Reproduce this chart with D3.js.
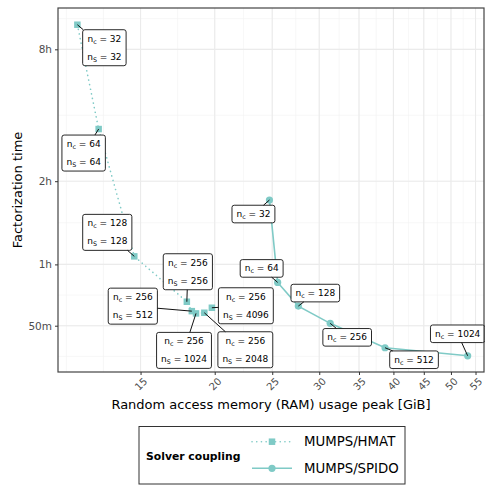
<!DOCTYPE html>
<html>
<head>
<meta charset="utf-8">
<script src="https://cdn.jsdelivr.net/npm/d3@7"></script>
<style>
  body { margin: 0; background: #fff; }
  svg { font-family: "DejaVu Sans", sans-serif; }
</style>
</head>
<body>
<div id="chart"></div>
<script>
// MUMPS/HMAT runs: RAM peak [GiB], factorization time [s], n_c, n_S
const hmatRam = [11.74, 12.75, 14.64, 17.95, 18.30, 18.60, 19.21, 19.78];
const hmatTime = [36825, 15440, 5346, 3663, 3387, 3324, 3342, 3484];
const hmatNc = [32, 64, 128, 256, 256, 256, 256, 256];
const hmatNs = [32, 64, 128, 256, 512, 1024, 2048, 4096];

// MUMPS/SPIDO runs
const spidoRam = [24.73, 25.53, 27.66, 31.30, 38.72, 53.35];
const spidoTime = [8547, 4303, 3533, 3060, 2497, 2335];
const spidoNc = [32, 64, 128, 256, 512, 1024];

const xTicks = [15, 20, 25, 30, 35, 40, 45, 50, 55];
const yTicks = [3000, 5000, 10000, 30000];
const yTickLabels = ["50m", "1h", "2h", "8h"];
const seriesNames = ["MUMPS/HMAT", "MUMPS/SPIDO"];

// where the repelled labels ended up (label centre minus point, px)
const hmatLabelShift = [[27, 23], [-15, 24], [-27, -24], [1, -30], [-59, -5], [-12, 37], [41, 37], [34, -2]];
const spidoLabelShift = [[-16, 14], [-16, -14], [17, -13], [17, 14], [29, 12], [-10, -22]];

const color = "#7fcac6";

let W = 485, H = 487;
let margin = {top: 8, right: 1, bottom: 115, left: 58};

let svg = d3.select("#chart").append("svg")
    .attr("width", W)
    .attr("height", H);

let x = d3.scaleLog()
    .domain([10.89, 56.84])
    .range([margin.left, W - margin.right]);

let y = d3.scaleLog()
    .domain([2040, 42330])
    .range([H - margin.bottom, margin.top]);

let x0 = margin.left, x1 = W - margin.right;
let y0 = H - margin.bottom, y1 = margin.top;

// minor grid: midpoints in log space, extended by the first step (like ggplot)
function minorBreaks(ticks, dom) {
    let l = ticks.map(Math.log);
    let bd = l[1] - l[0];
    let ext = [l[0] - bd].concat(l, [l[l.length - 1] + bd]);
    let out = [];
    for (let i = 0; i < ext.length - 1; i++) {
        out.push(ext[i]);
        out.push((ext[i] + ext[i + 1]) / 2);
    }
    out.push(ext[ext.length - 1]);
    return out.map(Math.exp).filter(v => v > dom[0] && v < dom[1]);
}

let grid = svg.append("g");
grid.selectAll(".vminor")
    .data(minorBreaks(xTicks, x.domain()))
    .enter().append("line")
    .attr("x1", d => x(d)).attr("x2", d => x(d))
    .attr("y1", y1).attr("y2", y0)
    .attr("stroke", "#f2f2f2").attr("stroke-width", 0.6);
grid.selectAll(".hminor")
    .data(minorBreaks(yTicks, y.domain()))
    .enter().append("line")
    .attr("y1", d => y(d)).attr("y2", d => y(d))
    .attr("x1", x0).attr("x2", x1)
    .attr("stroke", "#f2f2f2").attr("stroke-width", 0.6);
grid.selectAll(".vmajor")
    .data(xTicks)
    .enter().append("line")
    .attr("x1", d => x(d)).attr("x2", d => x(d))
    .attr("y1", y1).attr("y2", y0)
    .attr("stroke", "#ebebeb").attr("stroke-width", 1.1);
grid.selectAll(".hmajor")
    .data(yTicks)
    .enter().append("line")
    .attr("y1", d => y(d)).attr("y2", d => y(d))
    .attr("x1", x0).attr("x2", x1)
    .attr("stroke", "#ebebeb").attr("stroke-width", 1.1);

// data
let hmat = hmatRam.map((r, i) => ({ram: r, time: hmatTime[i], nc: hmatNc[i], ns: hmatNs[i], shift: hmatLabelShift[i]}));
let spido = spidoRam.map((r, i) => ({ram: r, time: spidoTime[i], nc: spidoNc[i], ns: null, shift: spidoLabelShift[i]}));

let line = d3.line()
    .x(d => x(d.ram))
    .y(d => y(d.time));

svg.append("path")
    .datum(hmat.slice().sort((a, b) => a.ram - b.ram))
    .attr("d", line)
    .attr("fill", "none")
    .attr("stroke", color)
    .attr("stroke-width", 1.6)
    .attr("stroke-linecap", "round")
    .attr("stroke-dasharray", "0.1,4.6");

svg.append("path")
    .datum(spido.slice().sort((a, b) => a.ram - b.ram))
    .attr("d", line)
    .attr("fill", "none")
    .attr("stroke", color)
    .attr("stroke-width", 1.6);

let sq = 6.5;
svg.selectAll(".hmatPt")
    .data(hmat)
    .enter().append("rect")
    .attr("x", d => x(d.ram) - sq / 2)
    .attr("y", d => y(d.time) - sq / 2)
    .attr("width", sq).attr("height", sq)
    .attr("fill", color);

svg.selectAll(".spidoPt")
    .data(spido)
    .enter().append("circle")
    .attr("cx", d => x(d.ram))
    .attr("cy", d => y(d.time))
    .attr("r", 3.6)
    .attr("fill", color);

// labels
function addSubText(g, sub, value, yy) {
    let t = g.append("text")
        .attr("x", 0).attr("y", yy)
        .attr("text-anchor", "middle")
        .attr("dominant-baseline", "central")
        .attr("font-size", 9)
        .attr("fill", "#000");
    t.append("tspan").text("n");
    t.append("tspan").attr("font-size", 6.3).attr("dy", 2).text(sub);
    t.append("tspan").attr("dy", -2).text(" = " + value);
    return t;
}

function intersectBox(px, py, cx, cy, hw, hh) {
    let dx = px - cx, dy = py - cy;
    let s = Math.min(hw / Math.abs(dx || 1e-9), hh / Math.abs(dy || 1e-9));
    return [cx + dx * s, cy + dy * s];
}

function drawLabel(d) {
    let px = x(d.ram), py = y(d.time);
    let cx = px + d.shift[0], cy = py + d.shift[1];
    let twoLines = d.ns !== null;
    let hh = twoLines ? 18 : 8.8;
    let g = svg.append("g").attr("transform", `translate(${cx},${cy})`);
    let rect = g.append("rect");
    let texts = [];
    if (twoLines) {
        texts.push(addSubText(g, "c", d.nc, -9));
        texts.push(addSubText(g, "S", d.ns, 9));
    } else {
        texts.push(addSubText(g, "c", d.nc, 0));
    }
    let w = d3.max(texts, t => t.node().getComputedTextLength()) + 9;
    rect.attr("x", -w / 2).attr("y", -hh)
        .attr("width", w).attr("height", 2 * hh)
        .attr("rx", 2.2)
        .attr("fill", "#fff")
        .attr("stroke", "#111")
        .attr("stroke-width", 0.9);
    let e = intersectBox(px, py, cx, cy, w / 2, hh);
    svg.append("line")
        .attr("x1", px).attr("y1", py)
        .attr("x2", e[0]).attr("y2", e[1])
        .attr("stroke", "#111")
        .attr("stroke-width", 1);
}
hmat.forEach(drawLabel);
spido.forEach(drawLabel);

// panel border
svg.append("rect")
    .attr("x", x0).attr("y", y1)
    .attr("width", x1 - x0).attr("height", y0 - y1)
    .attr("fill", "none")
    .attr("stroke", "#444")
    .attr("stroke-width", 1.2);

// axes
let xAxis = svg.append("g")
    .attr("transform", `translate(0,${y0})`)
    .call(d3.axisBottom(x).tickValues(xTicks).tickFormat(d3.format("d")).tickSize(3).tickSizeOuter(0));
xAxis.select(".domain").remove();
xAxis.selectAll("line").attr("stroke", "#333");
xAxis.selectAll("text")
    .attr("font-size", 10)
    .attr("fill", "#4d4d4d")
    .attr("font-family", "DejaVu Sans")
    .attr("text-anchor", "middle")
    .attr("dy", null)
    .attr("y", 0)
    .attr("transform", "translate(0,12) rotate(-45)")
    .attr("dominant-baseline", "central");

let yAxis = svg.append("g")
    .attr("transform", `translate(${x0},0)`)
    .call(d3.axisLeft(y).tickValues(yTicks).tickFormat((d, i) => yTickLabels[i]).tickSize(3).tickSizeOuter(0));
yAxis.select(".domain").remove();
yAxis.selectAll("line").attr("stroke", "#333");
yAxis.selectAll("text")
    .attr("font-size", 10.5)
    .attr("fill", "#4d4d4d")
    .attr("font-family", "DejaVu Sans");

svg.append("text")
    .attr("x", (x0 + x1) / 2)
    .attr("y", 409)
    .attr("text-anchor", "middle")
    .attr("font-size", 13)
    .text("Random access memory (RAM) usage peak [GiB]");

svg.append("text")
    .attr("transform", `translate(22,${(y0 + y1) / 2}) rotate(-90)`)
    .attr("text-anchor", "middle")
    .attr("font-size", 13)
    .text("Factorization time");

// legend
let lg = svg.append("g");
lg.append("rect")
    .attr("x", 139).attr("y", 426.5)
    .attr("width", 266).attr("height", 57.5)
    .attr("fill", "#fff")
    .attr("stroke", "#333")
    .attr("stroke-width", 1);
lg.append("text")
    .attr("x", 146).attr("y", 456)
    .attr("dominant-baseline", "central")
    .attr("font-size", 10.8)
    .attr("font-weight", "bold")
    .text("Solver coupling");

let keyY = [441.7, 468.3];
seriesNames.forEach((name, i) => {
    let ky = keyY[i];
    lg.append("line")
        .attr("x1", 252).attr("x2", 292)
        .attr("y1", ky).attr("y2", ky)
        .attr("stroke", color)
        .attr("stroke-width", 1.6)
        .attr("stroke-linecap", i === 0 ? "round" : "butt")
        .attr("stroke-dasharray", i === 0 ? "0.1,4.6" : null);
    if (i === 0) {
        lg.append("rect")
            .attr("x", 272 - sq / 2).attr("y", ky - sq / 2)
            .attr("width", sq).attr("height", sq)
            .attr("fill", color);
    } else {
        lg.append("circle")
            .attr("cx", 272).attr("cy", ky).attr("r", 3.6)
            .attr("fill", color);
    }
    lg.append("text")
        .attr("x", 304).attr("y", ky)
        .attr("dominant-baseline", "central")
        .attr("font-size", 13.3)
        .text(name);
});
</script>
</body>
</html>
